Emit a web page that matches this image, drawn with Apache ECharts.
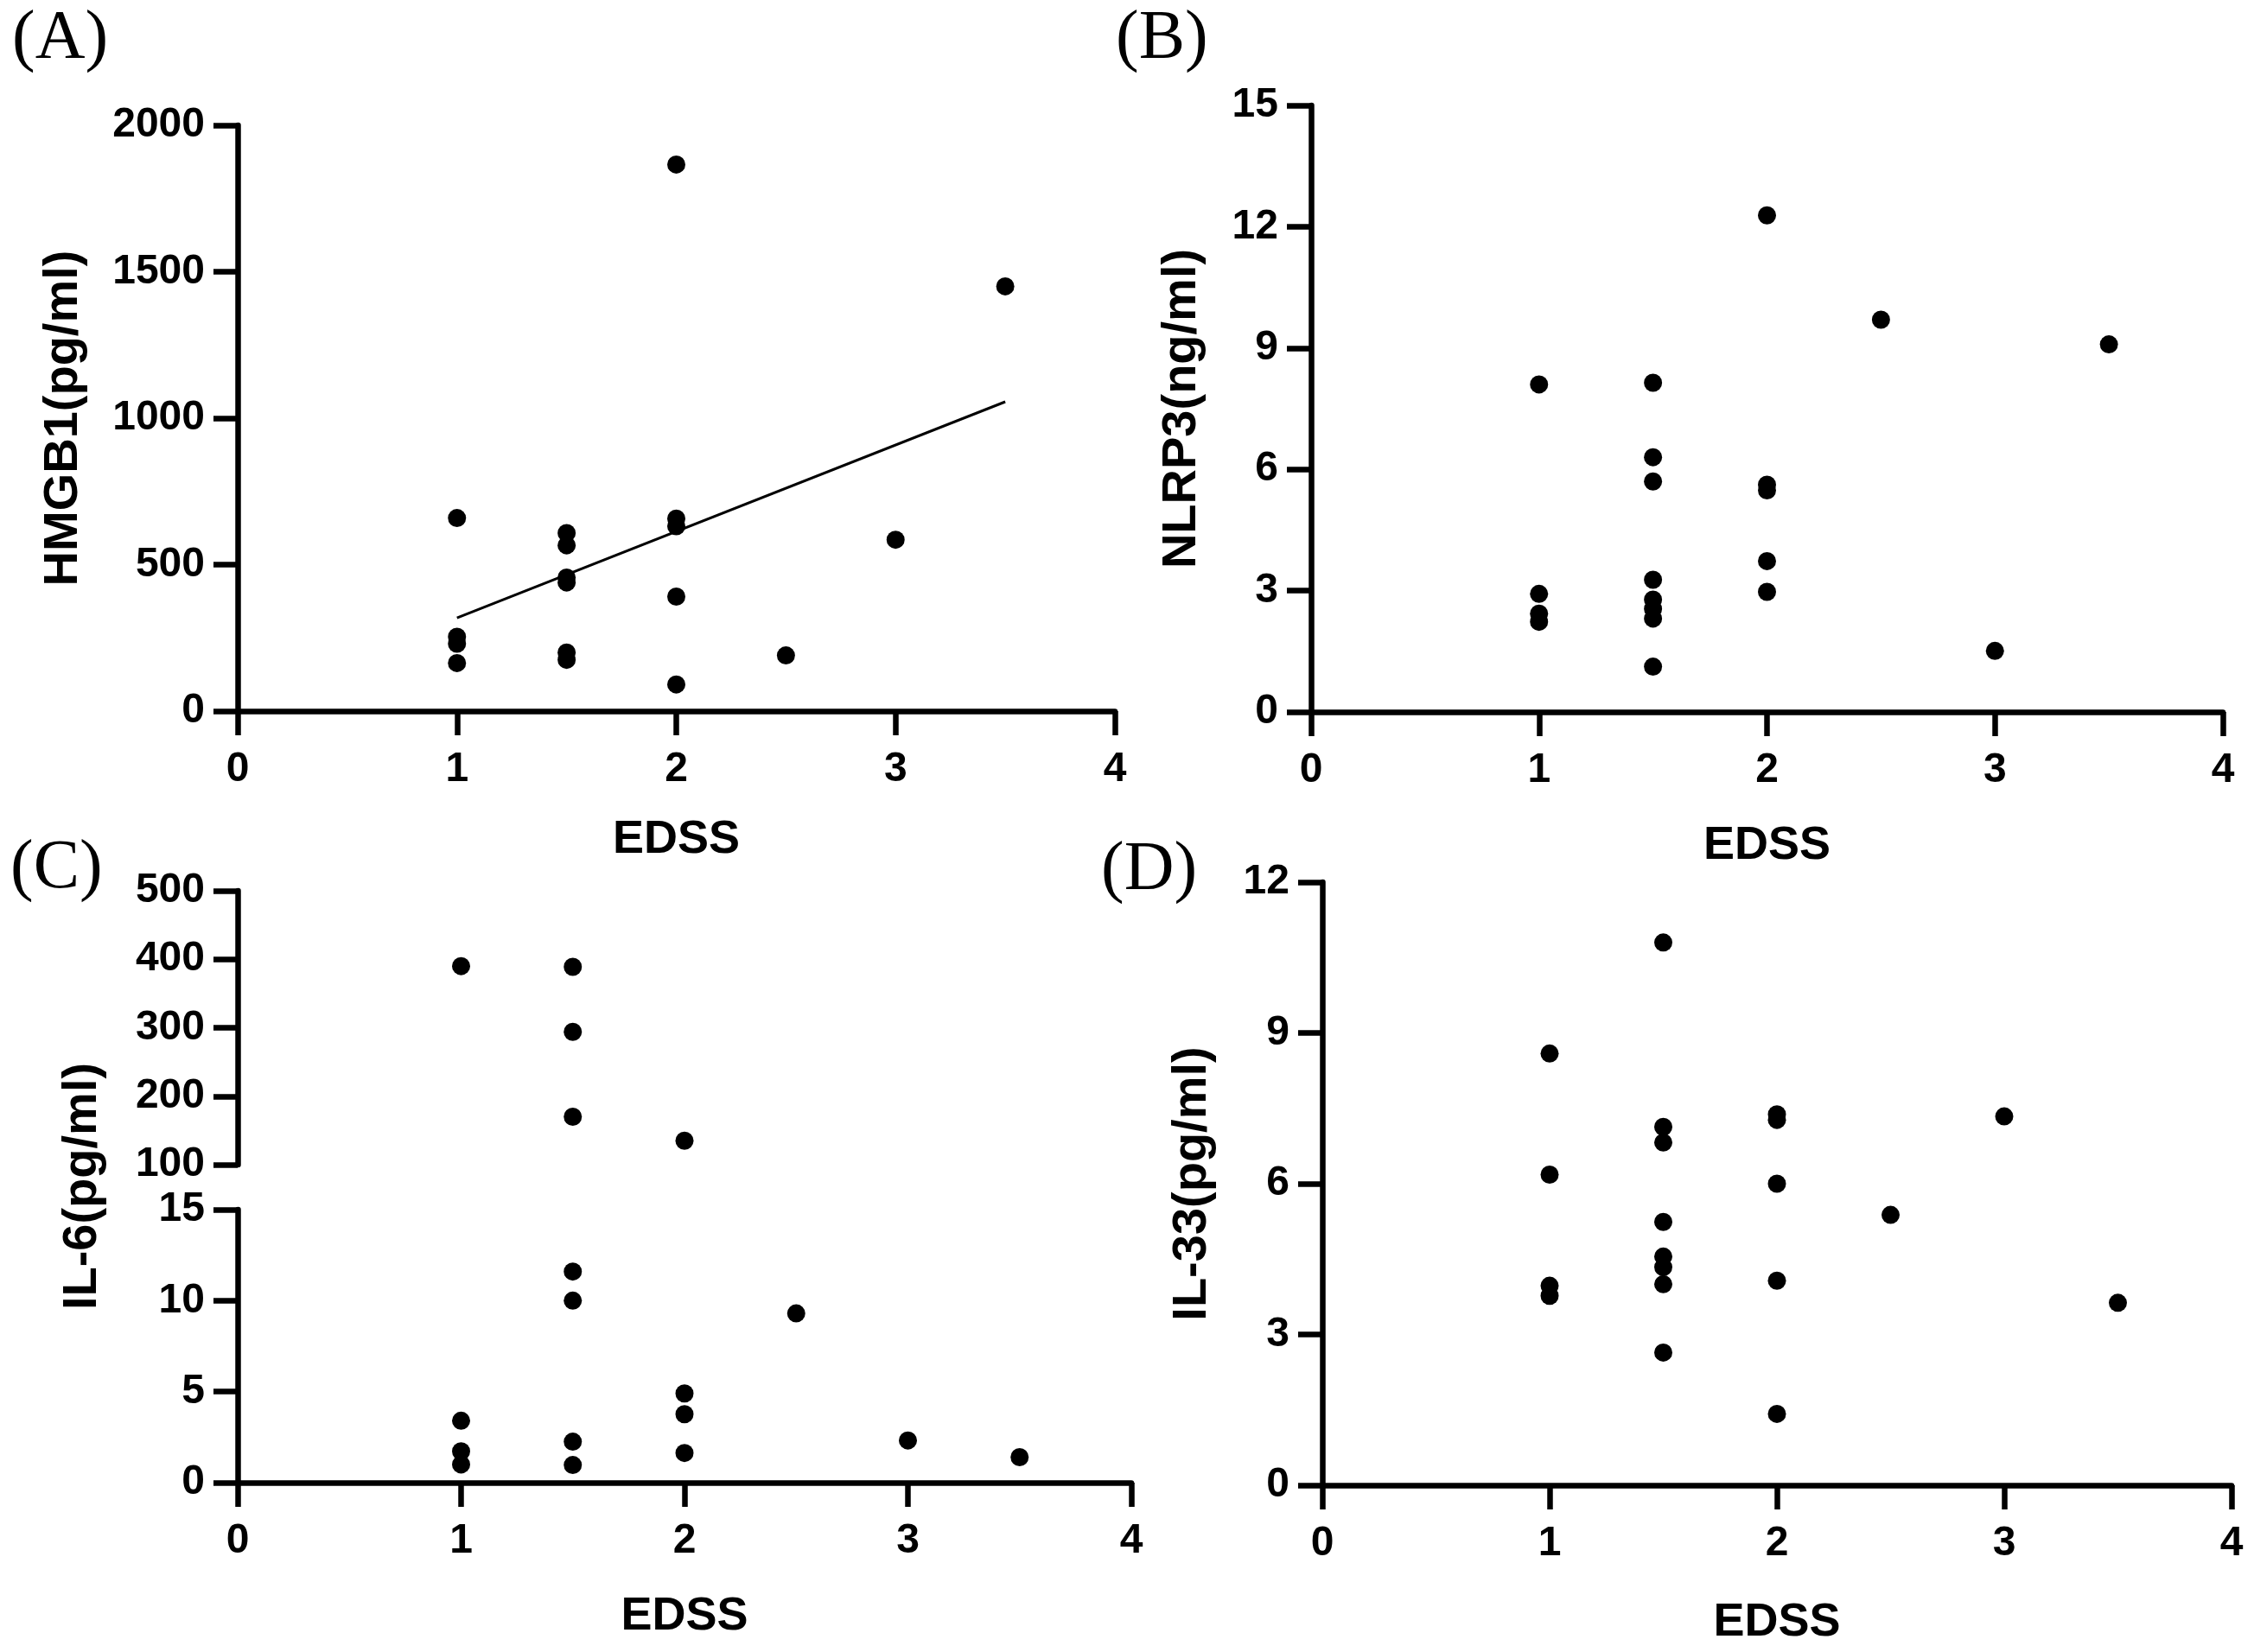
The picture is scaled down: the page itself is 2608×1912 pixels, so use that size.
<!DOCTYPE html>
<html lang="en">
<head>
<meta charset="UTF-8">
<title>EDSS correlations</title>
<script src="https://cdn.jsdelivr.net/npm/echarts@6.0.0/dist/echarts.min.js"></script>
<style>
  html, body { margin: 0; padding: 0; background: #fff; }
  #chart { width: 2608px; height: 1912px; }
</style>
</head>
<body>
<div id="chart"></div>
<script>
// ---- data ----
// (A) HMGB1 vs EDSS
var edssA = [1, 1, 1, 1, 1.5, 1.5, 1.5, 1.5, 1.5, 1.5, 2, 2, 2, 2, 2, 2.5, 3, 3.5];
var hmgb1 = [659, 254, 230, 164, 608, 566, 456, 439, 200, 175, 1866, 657, 631, 391, 91, 190, 585, 1450];
// regression line end points
var hmgb1FitX = [1, 3.5];
var hmgb1FitY = [318, 1056];

// (B) NLRP3 vs EDSS
var edssB = [1, 1, 1, 1, 1.5, 1.5, 1.5, 1.5, 1.5, 1.5, 1.5, 1.5, 2, 2, 2, 2, 2, 2.5, 3, 3.5];
var nlrp3 = [8.1, 2.92, 2.43, 2.23, 8.14, 6.3, 5.7, 3.27, 2.78, 2.55, 2.31, 1.12, 12.28, 5.62, 5.48, 3.73, 2.97, 9.7, 1.51, 9.09];

// (C) IL-6 vs EDSS (broken axis: 0-15 and 100-500)
var edssC = [1, 1, 1, 1, 1.5, 1.5, 1.5, 1.5, 1.5, 1.5, 1.5, 2, 2, 2, 2, 2.5, 3, 3.5];
var il6 = [390, 3.4, 1.72, 1.0, 389, 294, 170, 11.6, 10.0, 2.25, 0.97, 135, 4.9, 3.76, 1.63, 9.3, 2.32, 1.4];

// (D) IL-33 vs EDSS
var edssD = [1, 1, 1, 1, 1.5, 1.5, 1.5, 1.5, 1.5, 1.5, 1.5, 1.5, 2, 2, 2, 2, 2, 2.5, 3, 3.5];
var il33 = [8.59, 6.18, 3.97, 3.77, 10.8, 7.13, 6.82, 5.24, 4.55, 4.34, 4.0, 2.64, 7.38, 7.27, 6.0, 4.07, 1.42, 5.38, 7.34, 3.63];

var edssTicks = [0, 4, 1];      // min, max, interval
var hmgb1Ticks = [0, 2000, 500];
var nlrp3Ticks = [0, 15, 3];
var il6LowTicks = [0, 15, 5];
var il6HighTicks = [100, 500, 100];
var il33Ticks = [0, 12, 3];

var panelLetters = ['(A)', '(B)', '(C)', '(D)'];

// ---- helpers ----
function pairs(xs, ys) {
  var out = [];
  for (var i = 0; i < xs.length; i++) out.push([xs[i], ys[i]]);
  return out;
}

var SANS = 'Liberation Sans, Arial, sans-serif';
var SERIF = 'Liberation Serif, Times New Roman, serif';

function axisBase(ticks) {
  return {
    type: 'value',
    min: ticks[0],
    max: ticks[1],
    interval: ticks[2],
    axisLine: { show: true, onZero: false, lineStyle: { color: '#000', width: 6.5 } },
    axisTick: { show: true, length: 28, lineStyle: { color: '#000', width: 6.5 } },
    axisLabel: {
      color: '#000', fontFamily: SANS, fontWeight: 'bold', fontSize: 48,
      formatter: function(v) { return String(v); }
    },
    splitLine: { show: false },
    nameTextStyle: { color: '#000', fontFamily: SANS, fontWeight: 'bold', fontSize: 56 }
  };
}

function xAxis(grid, gap) {
  var a = axisBase(edssTicks);
  a.gridIndex = grid;
  a.axisLabel.margin = 44;
  if (gap) {
    a.name = 'EDSS';
    a.nameLocation = 'middle';
    a.nameGap = gap;
    a.nameTextStyle.fontSize = 54;
  }
  return a;
}

function yAxis(grid, ticks, name, gap) {
  var a = axisBase(ticks);
  a.gridIndex = grid;
  a.axisLabel.margin = 38;
  if (name) {
    a.name = name;
    a.nameLocation = 'middle';
    a.nameGap = gap;
  }
  return a;
}

// break marks for panel C: extra inside ticks on overlaid axes
function breakAxis(grid, ticks, value) {
  return {
    type: 'value', gridIndex: grid,
    min: ticks[0], max: ticks[1], interval: ticks[2],
    axisLine: { show: false },
    axisLabel: { show: false },
    splitLine: { show: false },
    axisTick: { show: true, inside: true, length: 18, customValues: [value],
      lineStyle: { color: '#000', width: 6.5 } }
  };
}

function dots(xi, yi, data) {
  return {
    type: 'scatter', xAxisIndex: xi, yAxisIndex: yi,
    symbol: 'circle', symbolSize: 21,
    itemStyle: { color: '#000', opacity: 1 },
    data: data
  };
}

var lowC = [], highC = [];
for (var i = 0; i < edssC.length; i++) {
  if (il6[i] > il6LowTicks[1]) highC.push([edssC[i], il6[i]]);
  else lowC.push([edssC[i], il6[i]]);
}

var ilUpper = yAxis(3, il6HighTicks);
ilUpper.axisTick.customValues = [100, 200, 300, 400, 500];

var option = {
  backgroundColor: '#fff',
  animation: false,
  grid: [
    { left: 275, right: 2608 - 1290, top: 145, bottom: 1912 - 823 },   // A
    { left: 1517, right: 2608 - 2572, top: 122, bottom: 1912 - 824 },  // B
    { left: 275, right: 2608 - 1309, top: 1400, bottom: 1912 - 1716 }, // C low
    { left: 275, right: 2608 - 1309, top: 1031, bottom: 1912 - 1348 }, // C high
    { left: 1530, right: 2608 - 2582, top: 1021, bottom: 1912 - 1719 } // D
  ],
  xAxis: [
    xAxis(0, 122),
    xAxis(1, 128),
    xAxis(2, 128),
    Object.assign(xAxis(3, 0), { show: false }),
    xAxis(4, 132)
  ],
  yAxis: [
    yAxis(0, hmgb1Ticks, 'HMGB1(pg/ml)', 173),
    yAxis(1, nlrp3Ticks, 'NLRP3(ng/ml)', 121),
    yAxis(2, il6LowTicks),
    ilUpper,
    yAxis(4, il33Ticks, 'IL-33(pg/ml)', 122),
    breakAxis(2, il6LowTicks, 15),
    breakAxis(3, il6HighTicks, 100)
  ],
  graphic: [
    { type: 'text', left: 14, top: 6, style: { text: panelLetters[0], font: '80px ' + SERIF, fill: '#000' } },
    { type: 'text', left: 1291, top: 6, style: { text: panelLetters[1], font: '80px ' + SERIF, fill: '#000' } },
    { type: 'text', left: 12, top: 966, style: { text: panelLetters[2], font: '80px ' + SERIF, fill: '#000' } },
    { type: 'text', left: 1274, top: 968, style: { text: panelLetters[3], font: '80px ' + SERIF, fill: '#000' } },
    {
      type: 'text', x: 124, y: 1373, rotation: Math.PI / 2,
      style: { text: 'IL-6(pg/ml)', font: 'bold 56px ' + SANS, fill: '#000', align: 'center', verticalAlign: 'bottom' }
    }
  ],
  series: [
    dots(0, 0, pairs(edssA, hmgb1)),
    {
      type: 'line', xAxisIndex: 0, yAxisIndex: 0,
      symbol: 'none', data: pairs(hmgb1FitX, hmgb1FitY),
      lineStyle: { color: '#000', width: 3 }
    },
    dots(1, 1, pairs(edssB, nlrp3)),
    dots(2, 2, lowC),
    dots(3, 3, highC),
    dots(4, 4, pairs(edssD, il33))
  ]
};

var myChart = echarts.init(document.getElementById('chart'));
myChart.setOption(option);
</script>
</body>
</html>
